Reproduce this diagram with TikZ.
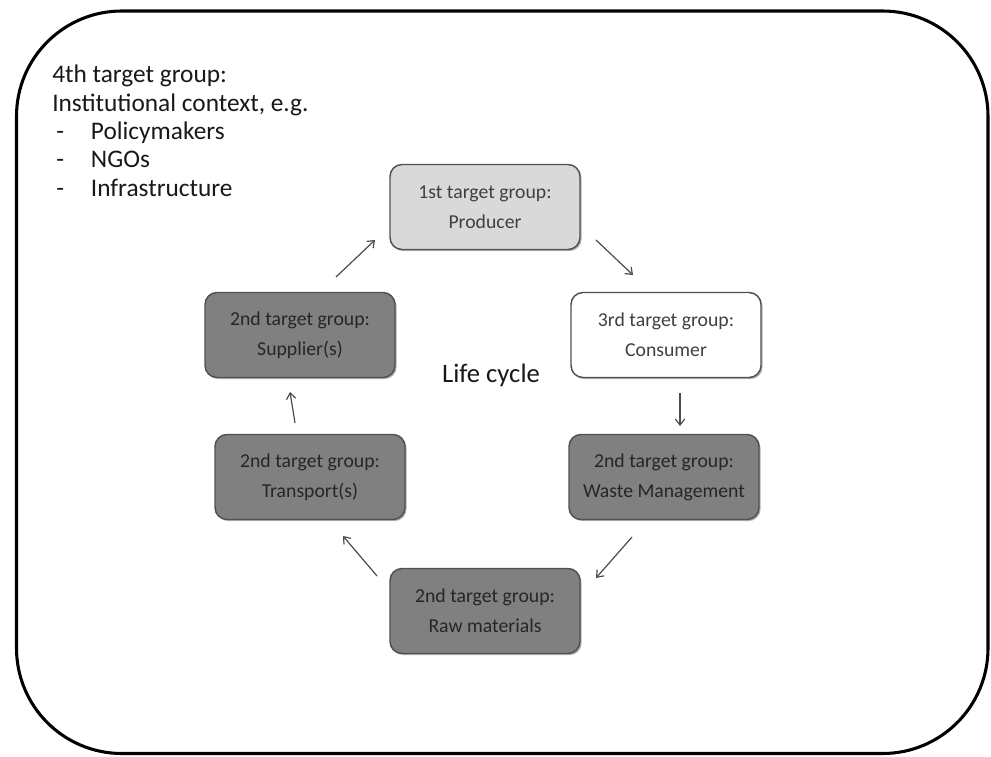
\documentclass[tikz,border=0pt]{standalone}
\usepackage{fontspec}
\setmainfont{Carlito}
\usetikzlibrary{shadows,arrows.meta,calc}
\definecolor{darkfill}{HTML}{808080}
\definecolor{lightfill}{HTML}{D9D9D9}
\definecolor{boxline}{HTML}{505050}
\begin{document}
\begin{tikzpicture}[x=0.75pt,y=-0.75pt,
  box/.style={draw=boxline, line width=1.1pt, rounded corners=9pt,
    minimum width=142.5pt, minimum height=63.75pt, align=center, inner sep=0pt,
    font=\fontsize{14.8}{22.5}\selectfont,
    drop shadow={shadow xshift=1.2pt, shadow yshift=-1.2pt, opacity=0.3, fill=black}},
  darkbox/.style={box, fill=darkfill, text=black!85},
  lightbox/.style={box, fill=lightfill, text=black!75},
  whitebox/.style={box, fill=white, text=black!75},
  arr/.style={draw=black!70, line width=0.9pt, -{Straight Barb[length=4.5pt,width=7pt]}},
  lefttext/.style={anchor=base west, inner sep=0pt, font=\fontsize{19}{21}\selectfont, text=black!90}
]
\useasboundingbox (0,0) rectangle (991,756);
\fill[white] (0,0) rectangle (991,756);
\draw[line width=2.3pt, rounded corners=79pt] (16.5,11) rectangle (988,753.5);

% left text
\node[lefttext] (t1) at (52,83) {4th target group:};
\node[lefttext] (t2) at (52,111.3) {Institutional context, e.g.};
\node[lefttext] (t3) at (52,139.6) {\hspace{3pt}\makebox[26pt][l]{-}Policymakers};
\node[lefttext] (t4) at (52,167.9) {\hspace{3pt}\makebox[26pt][l]{-}NGOs};
\node[lefttext] (t5) at (52,196.2) {\hspace{3pt}\makebox[26pt][l]{-}Infrastructure};

% boxes
\node[lightbox] (prod) at (485,207) {1st target group:\\Producer};
\node[whitebox] (cons) at (666,335) {3rd target group:\\Consumer};
\node[darkbox] (waste) at (664,477) {2nd target group:\\Waste Management};
\node[darkbox] (raw) at (485,611) {2nd target group:\\Raw materials};
\node[darkbox] (trans) at (310,477) {2nd target group:\\Transport(s)};
\node[darkbox] (sup) at (300,335) {2nd target group:\\Supplier(s)};

\node[anchor=base, inner sep=0pt, font=\fontsize{20}{22}\selectfont, text=black!90] (lc) at (491,382) {Life cycle};

% arrow end points
\coordinate (a1s) at (336,277); \coordinate (a1e) at (375,240);
\coordinate (a2s) at (596,240); \coordinate (a2e) at (633,275);
\coordinate (a3s) at (680,393); \coordinate (a3e) at (680,426);
\coordinate (a4s) at (632,537); \coordinate (a4e) at (596,578);
\coordinate (a5s) at (377,576); \coordinate (a5e) at (343,536);
\coordinate (a6s) at (295,423); \coordinate (a6e) at (290,392);

\draw[arr] (a1s) -- (a1e);
\draw[arr] (a2s) -- (a2e);
\draw[arr] (a3s) -- (a3e);
\draw[arr] (a4s) -- (a4e);
\draw[arr] (a5s) -- (a5e);
\draw[arr] (a6s) -- (a6e);
\end{tikzpicture}
\end{document}
